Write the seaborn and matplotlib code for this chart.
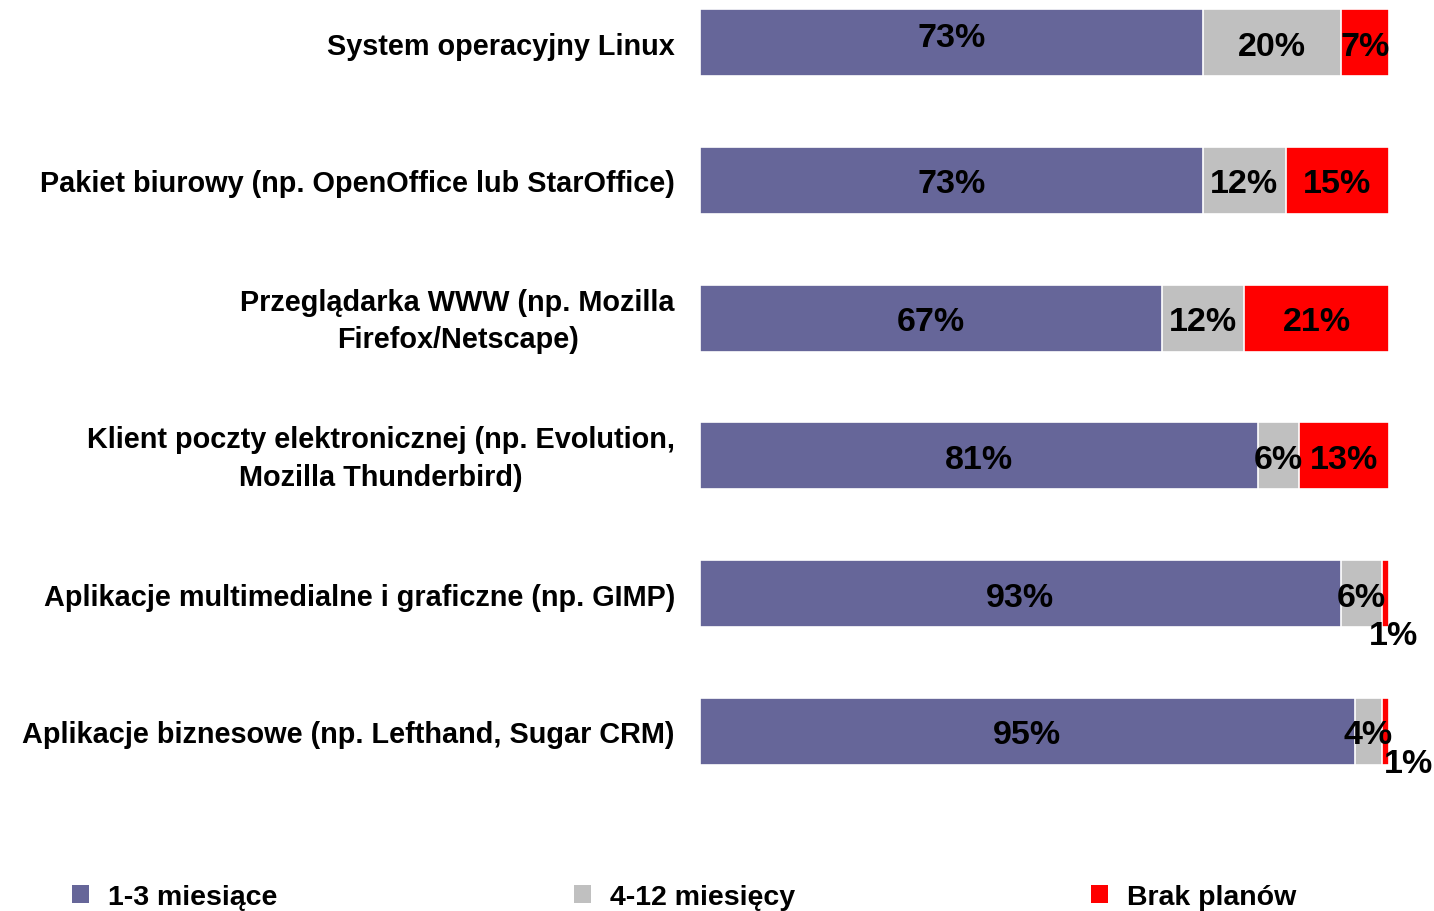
import matplotlib
matplotlib.use("Agg")
import matplotlib.pyplot as plt
from matplotlib.patches import Patch
import matplotlib.transforms as mtransforms
import numpy as np
import pandas as pd
import seaborn as sns

# dane z wykresu
kategorie = [
    "System operacyjny Linux",
    "Pakiet biurowy (np. OpenOffice lub StarOffice)",
    "Przeglądarka WWW (np. Mozilla\nFirefox/Netscape)",
    "Klient poczty elektronicznej (np. Evolution,\nMozilla Thunderbird)",
    "Aplikacje multimedialne i graficzne (np. GIMP)",
    "Aplikacje biznesowe (np. Lefthand, Sugar CRM)",
]
serie = ["1-3 miesiące", "4-12 miesięcy", "Brak planów"]
m1_3 = [73, 73, 67, 81, 93, 95]
m4_12 = [20, 12, 12, 6, 6, 4]
brak = [7, 15, 21, 13, 1, 1]

kolory = ["#666699", "#C0C0C0", "#FF0000"]

df = pd.DataFrame({"kat": kategorie, serie[0]: m1_3, serie[1]: m4_12, serie[2]: brak})
cum = df[serie].cumsum(axis=1)

sns.set_style("white")
plt.rcParams["font.family"] = ["Liberation Sans", "DejaVu Sans"]
plt.rcParams["font.weight"] = "bold"
plt.rcParams["text.color"] = "black"
plt.rcParams["ytick.color"] = "black"
plt.rcParams["ytick.labelcolor"] = "black"

fig = plt.figure(figsize=(14.34, 9.12), dpi=100)
ax = fig.add_axes([700 / 1434, 1 - 800 / 912, 689 / 1434, 800 / 912])

# warstwy od najdłuższej, żeby uzyskać słupki skumulowane
for s, c in zip(serie[::-1], kolory[::-1]):
    sns.barplot(data=cum.assign(kat=df["kat"]), x=s, y="kat", color=c,
                width=0.486, edgecolor="white", linewidth=1.2,
                orient="h", ax=ax, saturation=1)

ax.set_xlim(0, 100)
ax.set_ylim(5.49, -0.316)
sns.despine(ax=ax, left=True, bottom=True)
ax.set_xticks([])
ax.set_xlabel("")
ax.set_ylabel("")
ax.tick_params(axis="y", length=0, pad=18, labelsize=20.8, labelcolor="black")
for t in ax.get_yticklabels():
    t.set_multialignment("center")
    t.set_linespacing(1.45)
    t.set_fontweight("bold")
    if "\n" in t.get_text():
        # podniesienie etykiet dwuwierszowych o kilka pikseli
        t.set_transform(t.get_transform() + mtransforms.ScaledTranslation(0, 4 / 72, fig.dpi_scale_trans))

# etykiety wartości
for i in range(len(kategorie)):
    start = 0
    for s in serie:
        v = df.loc[i, s]
        xc = start + v / 2
        dx, dy = 0, 0
        if v <= 1:
            dx, dy = (1.2, 0.28) if i == 4 else (3.4, 0.21)
        if i == 0 and s == serie[0]:
            dy = -0.06
        ax.text(xc + dx, i + dy, f"{v}%", ha="center", va="center_baseline",
                fontsize=24.5, fontweight="bold", color="black")
        start += v

uchwyty = [Patch(facecolor=c, edgecolor="none") for c in kolory]
fig.legend(uchwyty, serie, loc="center left", bbox_to_anchor=(72 / 1434, 1 - 898 / 912),
           ncol=3, frameon=False, fontsize=20.5, handlelength=0.6, handleheight=0.6,
           handletextpad=0.67, columnspacing=10.4, borderaxespad=0, borderpad=0)

fig.savefig("out.png", dpi=100)
